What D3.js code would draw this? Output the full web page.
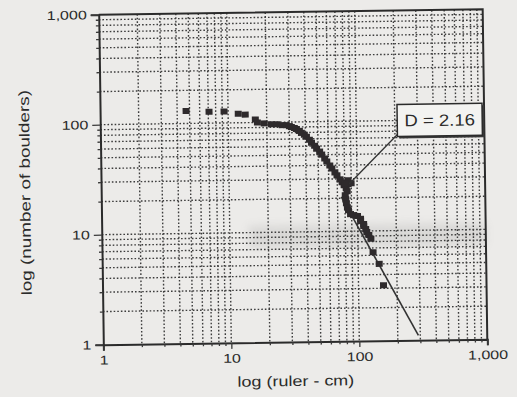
<!DOCTYPE html>
<html>
<head>
<meta charset="utf-8">
<script src="https://cdn.jsdelivr.net/npm/d3@7"></script>
<style>
  html, body { margin: 0; padding: 0; background: #ecebe9; }
  svg { display: block; }
  text { font-family: "Liberation Sans", Arial, sans-serif; fill: #2b2b2b; }
</style>
</head>
<body>
<svg id="chart" width="517" height="397"></svg>
<script>
// Boulder counts per ruler length (cm), log-log.
const rulerCm = [
  4.7, 7.1, 9.3, 12.0, 13.6, 16.3, 16.9, 19.1, 21.7, 24.1,
  26.4, 28.4, 30.0, 31.1, 32.8, 34.0, 35.9, 37.2, 39.2, 40.7,
  42.9, 44.5, 47.0, 48.7, 51.4, 53.3, 56.2, 58.3, 61.5, 63.8,
  67.3, 69.8, 73.7, 76.4, 79.1, 82.1, 83.5, 85.1, 89.8, 85.1,
  80.6, 80.6, 81.3, 82.1, 83.5, 85.1, 88.2, 93.1, 100, 105.5,
  105.5, 111.4, 111.4, 115.5, 117.6, 121.9, 126.4, 131.0, 145.9, 156.8
];
const boulders = [
  130, 127, 127, 120.7, 118.2, 106.5, 100, 97.9, 95.9, 95.9,
  93.9, 93.9, 91.9, 90.1, 88.2, 86.4, 82.8, 79.4, 76.2, 73.1,
  68.6, 64.4, 60.5, 56.8, 53.4, 50.1, 46.1, 43.3, 39.8, 37.4,
  34.4, 32.3, 29.7, 27.9, 26.2, 24.6, 23.1, 26.8, 27.3, 29.1,
  27.3, 21.3, 19.5, 18.0, 16.5, 15.5, 14.3, 14.0, 13.7, 12.9,
  12.3, 11.6, 11.1, 10.4, 9.8, 9.2, 8.5, 6.4, 5.0, 3.2
];

const majorTicks = [1, 10, 100, 1000];
const majorTickLabels = ["1", "10", "100", "1,000"];
const xTitle = "log (ruler - cm)";
const yTitle = "log (number of boulders)";

// Power-law fit: N = (fitUnitRuler / ruler)^fitD
const fitD = 2.16;
const fitRuler = [75, 290];
const fitUnitRuler = 304;

// Callout: box corner and the point its leader line touches (data units)
const calloutBoxAt = [209, 140];
const calloutTarget = [87, 27];

const plot = { left: 101, right: 485, top: 12, bottom: 342 };

const svg = d3.select("#chart");

const defs = svg.append("defs");
defs.append("filter").attr("id", "smudge")
  .attr("x", "-20%").attr("y", "-100%").attr("width", "140%").attr("height", "300%")
  .append("feGaussianBlur").attr("stdDeviation", 4);

// The whole sheet sits slightly askew on the page.
const root = svg.append("g").attr("transform", "rotate(-0.8, 293, 177)");

const x = d3.scaleLog().domain([1, 1000]).range([plot.left, plot.right]);
const y = d3.scaleLog().domain([1, 1000]).range([plot.bottom, plot.top]);

// All 1..9 x 10^k positions for the grid and the minor ticks
const allTicks = [];
for (let e = 0; e < 3; e++) {
  for (let m = 1; m <= 9; m++) allTicks.push(m * Math.pow(10, e));
}
allTicks.push(1000);
const isMajor = v => majorTicks.includes(v);

// Grey smudge across the ten-boulder band
root.append("rect")
  .attr("x", x(14)).attr("width", x(1000) - x(14))
  .attr("y", y(11.5)).attr("height", y(7.2) - y(11.5))
  .attr("fill", "#808080").attr("opacity", 0.17)
  .attr("filter", "url(#smudge)");

// Dotted grid
const grid = root.append("g").attr("stroke", "#3c3c3c").attr("stroke-width", 1.4)
  .attr("stroke-dasharray", "1.6 2");
const inner = allTicks.filter(v => v > 1 && v < 1000);
grid.selectAll(".gv").data(inner).join("line")
  .attr("x1", d => x(d)).attr("x2", d => x(d))
  .attr("y1", plot.top).attr("y2", plot.bottom);
grid.selectAll(".gh").data(inner).join("line")
  .attr("y1", d => y(d)).attr("y2", d => y(d))
  .attr("x1", plot.left).attr("x2", plot.right);

// Axes
const fmt = v => isMajor(v) ? majorTickLabels[majorTicks.indexOf(v)] : "";

const xAxis = root.append("g")
  .attr("transform", `translate(0,${plot.bottom})`)
  .call(d3.axisBottom(x).tickValues(allTicks).tickFormat(fmt).tickSize(6).tickPadding(5));
const yAxis = root.append("g")
  .attr("transform", `translate(${plot.left},0)`)
  .call(d3.axisLeft(y).tickValues(allTicks).tickFormat(fmt).tickSize(8).tickPadding(4));

[xAxis, yAxis].forEach(ax => {
  ax.select(".domain").attr("stroke", "#2b2b2b").attr("stroke-width", 2);
  ax.selectAll(".tick line").attr("stroke", "#3a3a3a").attr("stroke-width", 1.3);
  ax.selectAll(".tick text").attr("font-size", 12.5).attr("fill", "#2b2b2b")
    .attr("font-family", "\"Liberation Sans\", Arial, sans-serif");
});
xAxis.selectAll(".tick").filter(d => !isMajor(d)).select("line").attr("y2", 3);
yAxis.selectAll(".tick").filter(d => !isMajor(d)).select("line").attr("x2", -3);

// frame top and right
root.append("path")
  .attr("d", `M${plot.left},${plot.top}H${plot.right}V${plot.bottom}`)
  .attr("fill", "none").attr("stroke", "#2b2b2b").attr("stroke-width", 2);

// Wide-set lettering
function widen(sel, k) {
  sel.each(function () {
    const w = this.getComputedTextLength();
    d3.select(this).attr("textLength", w * k).attr("lengthAdjust", "spacingAndGlyphs");
  });
}
widen(xAxis.selectAll(".tick text"), 1.28);
widen(yAxis.selectAll(".tick text"), 1.28);

// Axis titles
const xt = root.append("text")
  .attr("x", (plot.left + plot.right) / 2).attr("y", 386)
  .attr("text-anchor", "middle").attr("font-size", 14.5).text(xTitle);
widen(xt, 1.24);

const yt = root.append("text")
  .attr("transform", `translate(30,${(plot.top + plot.bottom) / 2 + 12}) rotate(-90)`)
  .attr("text-anchor", "middle").attr("font-size", 14.5).text(yTitle);
widen(yt, 1.3);

// Fitted line
const fitLine = d3.line().x(d => x(d)).y(d => y(Math.pow(fitUnitRuler / d, fitD)));
root.append("path")
  .attr("d", fitLine(fitRuler))
  .attr("fill", "none").attr("stroke", "#333").attr("stroke-width", 1.6);

// Data points
const pts = rulerCm.map((r, i) => ({ r, n: boulders[i] }));
root.append("g").selectAll("rect").data(pts).join("rect")
  .attr("x", d => x(d.r) - 3.5).attr("y", d => y(d.n) - 3)
  .attr("width", 7).attr("height", 6)
  .attr("fill", "#2e2a2c");

// Callout with leader line
const bx = x(calloutBoxAt[0]), by = y(calloutBoxAt[1]);
const bw = 85, bh = 32;
root.append("line")
  .attr("x1", bx).attr("y1", by + bh - 2)
  .attr("x2", x(calloutTarget[0])).attr("y2", y(calloutTarget[1]))
  .attr("stroke", "#333").attr("stroke-width", 1.3);
root.append("rect")
  .attr("x", bx + 2).attr("y", by + 2).attr("width", bw).attr("height", bh)
  .attr("fill", "#3a3a3a");
root.append("rect")
  .attr("x", bx).attr("y", by).attr("width", bw).attr("height", bh)
  .attr("fill", "#f3f3f1").attr("stroke", "#2b2b2b").attr("stroke-width", 1.5);
const ct = root.append("text")
  .attr("x", bx + bw / 2).attr("y", by + bh / 2 + 6)
  .attr("text-anchor", "middle").attr("font-size", 16.5)
  .text(`D = ${fitD}`);
widen(ct, 1.12);
</script>
</body>
</html>
